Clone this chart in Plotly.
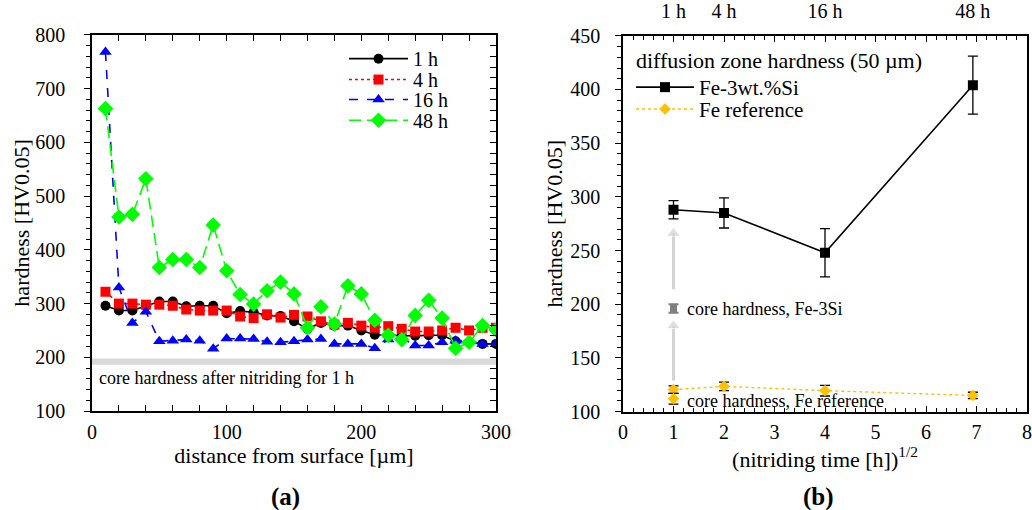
import math
import plotly.graph_objects as go

# ---------------- (a) hardness depth profiles ----------------
distance_um = [10, 20, 30, 40, 50, 60, 70, 80, 90, 100,
               110, 120, 130, 140, 150, 160, 170, 180, 190, 200,
               210, 220, 230, 240, 250, 260, 270, 280, 290, 300]
hv_1h = [296, 287, 287, 296, 304, 304, 295, 296, 296, 282,
         286, 284, 278, 277, 267, 253, 264, 259, 259, 250,
         242, 241, 240, 240, 241, 241, 230, 228, 225, 225]
hv_4h = [322, 300, 300, 298, 298, 296, 289, 287, 287, 287,
         276, 273, 280, 274, 279, 276, 267, 261, 264, 259,
         255, 258, 253, 248, 248, 250, 255, 250, 255, 255]
hv_16h = [768, 330, 264, 285, 230, 231, 233, 231, 216, 235,
          235, 234, 229, 228, 230, 233, 234, 225, 225, 225,
          217, 233, 236, 222, 222, 228, 231, 231, 225, 225]
hv_48h = [663, 461, 466, 532, 367, 382, 382, 367, 446, 361,
          317, 299, 324, 340, 318, 255, 294, 262, 333, 318,
          269, 241, 233, 278, 306, 273, 217, 228, 259, 251]
core_band_1h = (186, 198)

# ---------------- (b) diffusion zone hardness ----------------
nitriding_hours = [1, 4, 16, 48]
time_labels = ["1 h", "4 h", "16 h", "48 h"]
sqrt_time = [math.sqrt(h) for h in nitriding_hours]
hv_fe3si = [288, 285, 248, 404]
hv_fe3si_err = [8.5, 14, 22.5, 27]
hv_fe_ref = [120.5, 123.5, 119.5, 115]
hv_fe_ref_err = [3.5, 4, 5, 3]
core_fe3si, core_fe3si_err = 196, 4
core_fe, core_fe_err = 112, 5
# hardness increase arrows at 1 h: (from, to)
arrow_spans = [(129, 180), (214, 266)]

FONT = "Liberation Serif"
W, H = 1032, 510

fig = go.Figure()

series = [
    ("1 h", hv_1h, "#000000", "solid", "circle", 10),
    ("4 h", hv_4h, "#FF0000", "dot", "square", 10),
    ("16 h", hv_16h, "#0000FF", "dash", "triangle-up", 11),
    ("48 h", hv_48h, "#00FF00", "12px,6px", "diamond", 12),
]
legend_rows = [56, 77, 97, 118]
for i, (name, vals, col, dash, sym, ms) in enumerate(series):
    lg = "legend" if i == 0 else f"legend{i + 1}"
    fig.add_trace(go.Scatter(
        x=distance_um, y=vals, name=name, mode="lines+markers",
        line=dict(color=col, width=1.6, dash=dash),
        marker=dict(symbol=sym, size=ms, color=col),
        xaxis="x", yaxis="y", legend=lg))

# (b) arrows: light gray shaft with triangular head
for y0, y1 in arrow_spans:
    fig.add_trace(go.Scatter(
        x=[sqrt_time[0], sqrt_time[0]], y=[y0, y1], mode="lines+markers",
        line=dict(color="#D3D3D3", width=3),
        marker=dict(symbol="triangle-up", size=[0, 12], color="#D3D3D3"),
        showlegend=False, hoverinfo="skip", xaxis="x2", yaxis="y2"))

fig.add_trace(go.Scatter(
    x=sqrt_time, y=hv_fe3si, name="Fe-3wt.%Si", mode="lines+markers",
    line=dict(color="black", width=1.6),
    marker=dict(symbol="square", size=10, color="black"),
    error_y=dict(type="data", array=hv_fe3si_err, color="black", thickness=1.3, width=5),
    xaxis="x2", yaxis="y2", legend="legend5"))
fig.add_trace(go.Scatter(
    x=sqrt_time, y=hv_fe_ref, name="Fe reference", mode="lines+markers",
    line=dict(color="#FFC000", width=1.4, dash="dot"),
    marker=dict(symbol="diamond", size=9, color="#FFC000"),
    error_y=dict(type="data", array=hv_fe_ref_err, color="black", thickness=1.3, width=5),
    xaxis="x2", yaxis="y2", legend="legend6"))
fig.add_trace(go.Scatter(
    x=[sqrt_time[0]], y=[core_fe3si], mode="markers", showlegend=False,
    marker=dict(symbol="square", size=7, color="#808080"),
    error_y=dict(type="data", array=[core_fe3si_err], color="#808080", thickness=2, width=5),
    xaxis="x2", yaxis="y2"))
fig.add_trace(go.Scatter(
    x=[sqrt_time[0]], y=[core_fe], mode="markers", showlegend=False,
    marker=dict(symbol="diamond", size=9, color="#FFC000"),
    error_y=dict(type="data", array=[core_fe_err], color="black", thickness=1.3, width=5),
    xaxis="x2", yaxis="y2"))

# gray band: core hardness after 1 h nitriding
fig.add_shape(type="rect", xref="x", yref="y", x0=0, x1=300,
              y0=core_band_1h[0], y1=core_band_1h[1],
              fillcolor="#D9D9D9", line=dict(width=0), layer="below")

ann_font = dict(family=FONT, size=18, color="black")
panel_font = dict(family=FONT, size=25, color="black")
annotations = [
    dict(x=4, y=161, xref="x", yref="y", text="core hardness after nitriding for 1 h",
         showarrow=False, xanchor="left", yanchor="middle", font=ann_font),
    dict(x=0.22, y=427, xref="x2", yref="y2", text="diffusion zone hardness (50 µm)",
         showarrow=False, xanchor="left", yanchor="middle",
         font=dict(family=FONT, size=22, color="black")),
    dict(x=1.23, y=core_fe3si, xref="x2", yref="y2", text="core hardness, Fe-3Si",
         showarrow=False, xanchor="left", yanchor="middle", font=ann_font),
    dict(x=1.23, y=110, xref="x2", yref="y2", text="core hardness, Fe reference",
         showarrow=False, xanchor="left", yanchor="middle", font=ann_font),
    dict(x=285 / W, y=1 - 497 / H, xref="paper", yref="paper", text="<b>(a)</b>",
         showarrow=False, xanchor="center", yanchor="middle", font=panel_font),
    dict(x=818 / W, y=1 - 497 / H, xref="paper", yref="paper", text="<b>(b)</b>",
         showarrow=False, xanchor="center", yanchor="middle", font=panel_font),
]

tick_font = dict(family=FONT, size=20, color="black")
title_font = dict(family=FONT, size=22, color="black")

dom_x1 = [92 / W, 496 / W]
dom_x2 = [623 / W, 1027 / W]
dom_y1 = [1 - 410.5 / H, 1 - 32 / H]
dom_y2 = [1 - 411 / H, 1 - 33 / H]

axis_common = dict(showline=True, linecolor="black", linewidth=1.5, showgrid=False,
                   zeroline=False, tickcolor="black", tickfont=tick_font, automargin=False)

layout = dict(
    width=W, height=H, margin=dict(l=0, r=0, t=0, b=0),
    paper_bgcolor="white", plot_bgcolor="white",
    font=dict(family=FONT, color="black"),
    annotations=annotations,
    xaxis=dict(domain=dom_x1, range=[0, 300], tick0=0, dtick=100, ticks="inside", ticklen=6,
               mirror="allticks", anchor="y", ticklabelstandoff=2,
               minor=dict(dtick=20, ticks="inside", ticklen=6, tickcolor="black"),
               title=dict(text="distance from surface [µm]", font=title_font, standoff=4),
               **axis_common),
    yaxis=dict(domain=dom_y1, range=[100, 800], tick0=100, dtick=100, ticks="outside", ticklen=6,
               mirror=True, anchor="x", ticklabelstandoff=15,
               minor=dict(dtick=20, ticks="outside", ticklen=4, tickcolor="black"),
               title=dict(text="hardness [HV0.05]", font=title_font, standoff=0),
               **axis_common),
    yaxis3=dict(domain=dom_y1, range=[100, 800], overlaying="y", side="right", anchor="x",
                showticklabels=False, ticks="inside", ticklen=6, dtick=100, tick0=100,
                minor=dict(dtick=20, ticks="inside", ticklen=6, tickcolor="black"),
                showline=False, showgrid=False, zeroline=False, tickcolor="black"),
    xaxis2=dict(domain=dom_x2, range=[0, 8], tick0=0, dtick=1, ticks="inside", ticklen=6,
                mirror="allticks", anchor="y2", ticklabelstandoff=2,
                minor=dict(dtick=0.2, ticks="inside", ticklen=4, tickcolor="black"),
                title=dict(text="(nitriding time [h])<sup>1/2</sup>", font=title_font, standoff=4),
                **axis_common),
    xaxis3=dict(domain=dom_x2, range=[0, 8], overlaying="x2", side="top", anchor="y2",
                tickmode="array", tickvals=sqrt_time, ticktext=time_labels, ticks="",
                showline=False, showgrid=False, zeroline=False, tickfont=tick_font,
                ticklabelstandoff=13),
    yaxis2=dict(domain=dom_y2, range=[100, 450], tick0=100, dtick=50, ticks="outside", ticklen=6,
                mirror=True, anchor="x2", ticklabelstandoff=11,
                minor=dict(dtick=10, ticks="outside", ticklen=4, tickcolor="black"),
                title=dict(text="hardness [HV0.05]", font=title_font, standoff=2),
                **axis_common),
)

leg_font = dict(family=FONT, size=20, color="black")
for i, row in enumerate(legend_rows):
    key = "legend" if i == 0 else f"legend{i + 1}"
    layout[key] = dict(x=344 / W, y=1 - row / H, xanchor="left", yanchor="middle",
                       bgcolor="rgba(0,0,0,0)", borderwidth=0, font=leg_font,
                       itemwidth=59, tracegroupgap=0)
for key, row in (("legend5", 85), ("legend6", 107)):
    layout[key] = dict(x=631 / W, y=1 - row / H, xanchor="left", yanchor="middle",
                       bgcolor="rgba(0,0,0,0)", borderwidth=0,
                       font=dict(family=FONT, size=21, color="black"),
                       itemwidth=58, tracegroupgap=0)

fig.update_layout(**layout)
fig.add_trace(go.Scatter(x=[None], y=[None], xaxis="x3", yaxis="y2", showlegend=False))
fig.add_trace(go.Scatter(x=[None], y=[None], xaxis="x", yaxis="y3", showlegend=False))

fig.write_html("out.html")
